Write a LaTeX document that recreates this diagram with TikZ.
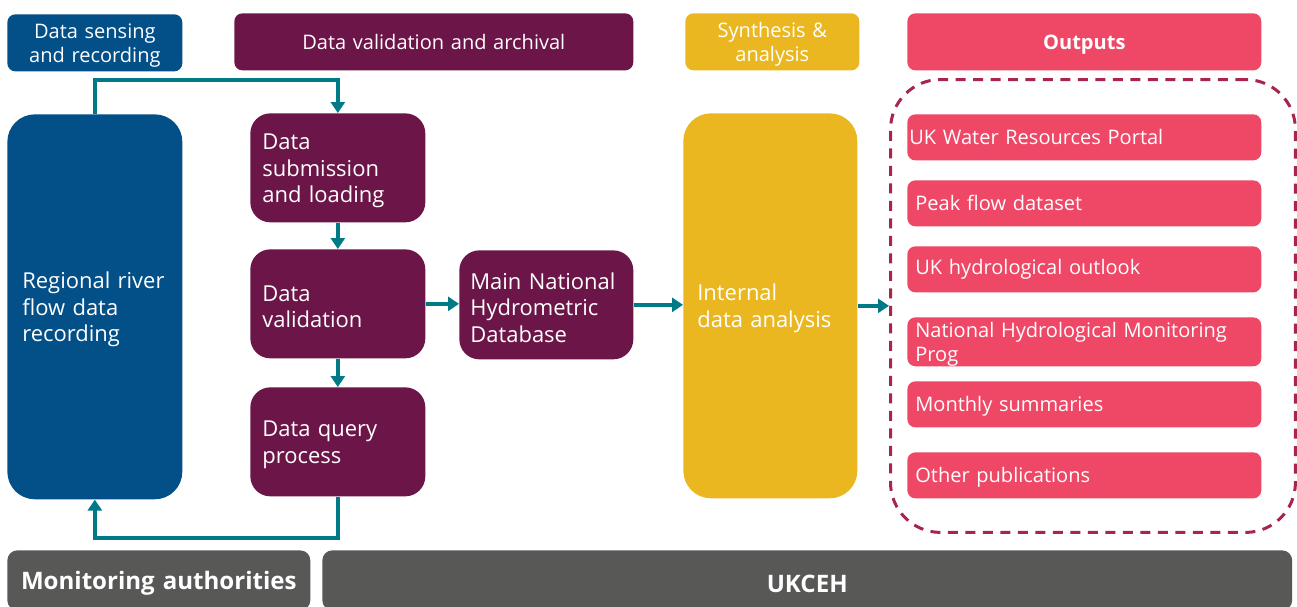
\documentclass[tikz,border=0pt]{standalone}
\usepackage{fontspec}
\setmainfont{Open Sans}
\usetikzlibrary{arrows.meta}

\definecolor{ceblue}{RGB}{3,79,136}
\definecolor{cepurple}{RGB}{108,21,72}
\definecolor{ceyellow}{RGB}{235,183,33}
\definecolor{ceout}{RGB}{238,72,102}
\definecolor{cegrey}{RGB}{88,88,87}
\definecolor{ceteal}{RGB}{0,122,135}
\definecolor{cedash}{RGB}{168,38,74}

\begin{document}
\begin{tikzpicture}[x=0.02cm,y=-0.02cm,
    every node/.style={anchor=north west,inner sep=0pt,text=white},
    drop/.style={execute at begin node={\rule{0pt}{1em}}},
    hdr/.style={rounded corners=0.16cm,minimum height=1.14cm,align=center,
      font=\fontsize{11.4pt}{13.7pt}\selectfont},
    blk/.style={drop,rounded corners=0.4cm,align=left,minimum height=2.18cm,
      font=\fontsize{12.5pt}{15.1pt}\selectfont},
    tall/.style={blk,rounded corners=0.55cm,minimum height=7.7cm},
    outbox/.style={fill=ceout,rounded corners=0.16cm,minimum height=0.92cm,
      text width=6.76cm,inner xsep=0.16cm,align=left,
      font=\fontsize{11.4pt}{13.7pt}\selectfont},
    bar/.style={drop,fill=cegrey,rounded corners=0.2cm,minimum height=1.2cm,
      font=\fontsize{13.7pt}{16pt}\selectfont\bfseries},
    flow/.style={draw=ceteal,line width=0.085cm,
      -{Triangle[length=0.22cm,width=0.28cm]}}]
  \clip (0,0) rectangle (1297,606);

  % column headings
  \node[hdr,drop,fill=ceblue,text width=3.5cm] (hsense) at (7,14) {Data sensing\\and recording};
  \node[hdr,fill=cepurple,text width=7.98cm] (hvalid) at (234,13) {Data validation and archival};
  \node[hdr,drop,fill=ceyellow,text width=3.48cm] (hsynth) at (685,13) {Synthesis \&\\analysis};
  \node[hdr,drop,fill=ceout,text width=7.08cm,font=\fontsize{11.4pt}{13.7pt}\selectfont\bfseries] (houts) at (907,13) {Outputs};

  % process boxes
  \node[tall,fill=ceblue,text width=2.9cm,inner xsep=0.3cm] (region) at (7,114) {Regional river\\flow data\\recording};
  \node[blk,fill=cepurple,text width=3.02cm,inner xsep=0.24cm] (submit) at (250,113) {Data\\submission\\and loading};
  \node[blk,fill=cepurple,text width=3.02cm,inner xsep=0.24cm] (valid) at (250,249) {Data\\validation};
  \node[blk,fill=cepurple,text width=3.02cm,inner xsep=0.24cm] (query) at (250,387) {Data query\\process};
  \node[blk,fill=cepurple,text width=3.04cm,inner xsep=0.22cm] (mndb) at (459,250) {Main National\\Hydrometric\\Database};
  \node[tall,fill=ceyellow,text width=2.92cm,inner xsep=0.28cm] (intern) at (683,113) {Internal\\data analysis};

  % outputs
  \node[draw=cedash,line width=0.06cm,dash pattern=on 0.2cm off 0.15cm,rounded corners=1cm,
    minimum width=8.1cm,minimum height=9.06cm] (outgrp) at (889,78) {};
  \node[outbox,inner xsep=0.04cm,text width=7cm] (portal) at (907,114) {UK Water Resources Portal};
  \node[outbox] (peak) at (907,180) {Peak flow dataset};
  \node[outbox] (outlook) at (907,246) {UK hydrological outlook};
  \node[outbox,drop] (nhmp) at (907,317) {National Hydrological Monitoring\\Prog};
  \node[outbox,drop] (monthly) at (907,381) {Monthly summaries};
  \node[outbox,drop] (otherpub) at (907,452) {Other publications};

  % organisations
  \node[bar,text width=6.06cm,align=center] (authority) at (7,550) {Monitoring authorities};
  \node[bar,text width=19.4cm,align=center] (ukceh) at (322,550) {UKCEH};

  % flow arrows
  \draw[flow] (region.north) -- ++(0,-34) -| (submit.north);
  \draw[flow] (submit) -- (valid);
  \draw[flow] (valid) -- (query);
  \draw[flow] (query.south) -- ++(0,41) -| (region.south);
  \draw[flow] (valid.east) -- (valid.east -| mndb.west);
  \draw[flow] (mndb.east) -- (mndb.east -| intern.west);
  \draw[flow] (intern.east) -- (intern.east -| outgrp.west);
\end{tikzpicture}
\end{document}
